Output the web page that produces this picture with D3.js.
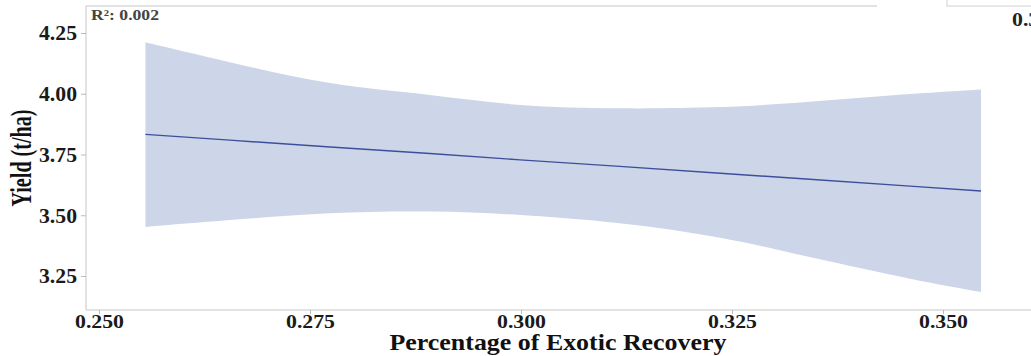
<!DOCTYPE html>
<html><head><meta charset="utf-8">
<script src="https://cdn.jsdelivr.net/npm/d3@7"></script>
<style>
html,body{margin:0;padding:0;background:#fff;overflow:hidden}
svg{display:block}
text{font-family:"Liberation Serif","Times New Roman",serif;font-weight:bold}
</style></head>
<body>
<svg id="c" width="1031" height="356"></svg>
<script>
// Data
const xVals  = [0.2555, 0.2655, 0.2774, 0.2892, 0.2999, 0.3117, 0.3236, 0.3342, 0.3461, 0.3545];
const fitVals = [3.833, 3.809, 3.781, 3.754, 3.728, 3.701, 3.673, 3.648, 3.620, 3.600];
const upperVals = [4.212, 4.130, 4.044, 3.995, 3.954, 3.940, 3.945, 3.967, 3.999, 4.018];
const lowerVals = [3.452, 3.480, 3.508, 3.515, 3.501, 3.467, 3.407, 3.328, 3.239, 3.184];
const xTicks = [0.250, 0.275, 0.300, 0.325, 0.350];
const yTicks = [3.25, 3.50, 3.75, 4.00, 4.25];
const r2Label = "R²: 0.002";
const xTitle = "Percentage of Exotic Recovery";
const yTitle = "Yield (t/ha)";

const svg = d3.select("#c");
const x = d3.scaleLinear().domain([0.25, 0.35]).range([99, 943]);
const y = d3.scaleLinear().domain([3.25, 4.25]).range([276, 33]);
const panel = {left: 86, top: 6, bottom: 310, right: 1040};

const pts = xVals.map((v, i) => ({x: v, f: fitVals[i], lo: lowerVals[i], hi: upperVals[i]}));

// band
svg.append("path")
  .datum(pts)
  .attr("fill", "#cdd6e8")
  .attr("d", d3.area().curve(d3.curveNatural)
    .x(d => x(d.x)).y0(d => y(d.lo)).y1(d => y(d.hi)));

// fit line
svg.append("path")
  .datum(pts)
  .attr("fill", "none")
  .attr("stroke", "#3d4f9c")
  .attr("stroke-width", 1.4)
  .attr("d", d3.line().x(d => x(d.x)).y(d => y(d.f)));

// panel borders
const bc = "#d8d8d8";
svg.append("line").attr("x1", panel.left).attr("x2", panel.left).attr("y1", panel.top).attr("y2", panel.bottom)
  .attr("stroke", bc).attr("stroke-width", 1.5);
svg.append("line").attr("x1", panel.left).attr("x2", panel.right).attr("y1", panel.bottom).attr("y2", panel.bottom)
  .attr("stroke", bc).attr("stroke-width", 1.5);
svg.append("line").attr("x1", panel.left).attr("x2", 877).attr("y1", panel.top).attr("y2", panel.top)
  .attr("stroke", bc).attr("stroke-width", 1.5);

// y axis
const ya = svg.append("g").attr("transform", `translate(${panel.left},0)`)
  .call(d3.axisLeft(y).tickValues(yTicks).tickFormat(d3.format(".2f")).tickSize(5).tickPadding(4));
ya.select(".domain").remove();
ya.selectAll(".tick line").attr("stroke", "#bbb");
ya.selectAll(".tick text").attr("fill", "#1a1a1a").attr("font-size", 20)
  .attr("dy", "0.34em")
  .attr("textLength", 38).attr("lengthAdjust", "spacingAndGlyphs");

// x axis
const xa = svg.append("g").attr("transform", `translate(0,${panel.bottom})`)
  .call(d3.axisBottom(x).tickValues(xTicks).tickFormat(d3.format(".3f")).tickSize(4).tickPadding(4));
xa.select(".domain").remove();
xa.selectAll(".tick line").attr("stroke", "#bbb");
xa.selectAll(".tick text").attr("fill", "#1a1a1a").attr("font-size", 19)
  .attr("y", 18).attr("dy", null)
  .attr("textLength", 49).attr("lengthAdjust", "spacingAndGlyphs");

// titles
svg.append("text").attr("x", 558).attr("y", 350).attr("text-anchor", "middle")
  .attr("font-size", 23).attr("fill", "#111")
  .attr("textLength", 337).attr("lengthAdjust", "spacingAndGlyphs").text(xTitle);
svg.append("text").attr("transform", "translate(31,158) rotate(-90) scale(1,1.35)").attr("text-anchor", "middle")
  .attr("font-size", 22).attr("fill", "#111")
  .attr("textLength", 97).attr("lengthAdjust", "spacingAndGlyphs").text(yTitle);

// R2 annotation
svg.append("text").attr("x", 91).attr("y", 20).attr("font-size", 15).attr("fill", "#444")
  .attr("textLength", 68).attr("lengthAdjust", "spacingAndGlyphs").text(r2Label);

// cropped neighbour panel fragment at top right
svg.append("rect").attr("x", 947).attr("y", -2).attr("width", 100).attr("height", 8)
  .attr("fill", "#fff").attr("stroke", "#d0d0d0").attr("stroke-width", 1);
svg.append("text").attr("x", 1012).attr("y", 26).attr("font-size", 19).attr("fill", "#222")
  .attr("textLength", 49).attr("lengthAdjust", "spacingAndGlyphs").text("0.350");
</script>
</body></html>
